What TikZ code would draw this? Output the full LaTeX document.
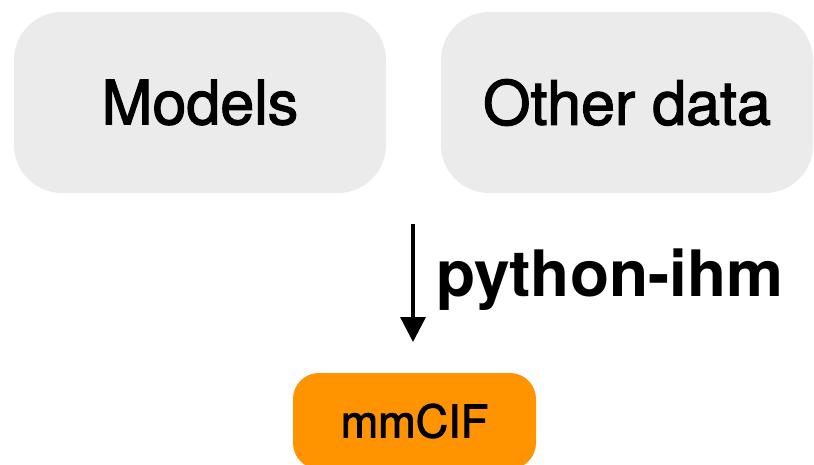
\documentclass[tikz,border=0pt]{standalone}
\usepackage{fontspec}
\setmainfont{TeX Gyre Heros}
\newfontfamily\medfont[FakeBold=2]{TeX Gyre Heros}
\usetikzlibrary{arrows.meta}
\definecolor{boxgray}{HTML}{EBEBEB}
\definecolor{orng}{HTML}{FF9300}
\begin{document}
\begin{tikzpicture}[x=1pt,y=-1pt,
  databox/.style={fill=boxgray, rounded corners=48pt, minimum width=372pt, minimum height=181pt, inner sep=0pt, font=\medfont\fontsize{61}{72}\selectfont},
  outbox/.style={fill=orng, rounded corners=26pt, minimum width=243pt, minimum height=96pt, inner sep=0pt, font=\medfont\fontsize{45}{54}\selectfont},
  conv/.style={line width=3.5pt, -{Triangle[width=25pt,length=25pt]}},
  convlabel/.style={anchor=base west, inner sep=0pt, font=\bfseries\fontsize{64}{72}\selectfont}]
\useasboundingbox (0,0) rectangle (814,464);
\node[databox] (models) at (200,102.5) {Models};
\node[databox] (other) at (627,102.5) {Other data};
\node[outbox] (mmcif) at (414.5,421) {mmCIF};
\coordinate (astart) at (413,224);
\coordinate (aend) at (413,342);
\draw[conv] (astart) -- (aend);
\node[convlabel] (lbl) at (436,296) {python-ihm};
\end{tikzpicture}
\end{document}
